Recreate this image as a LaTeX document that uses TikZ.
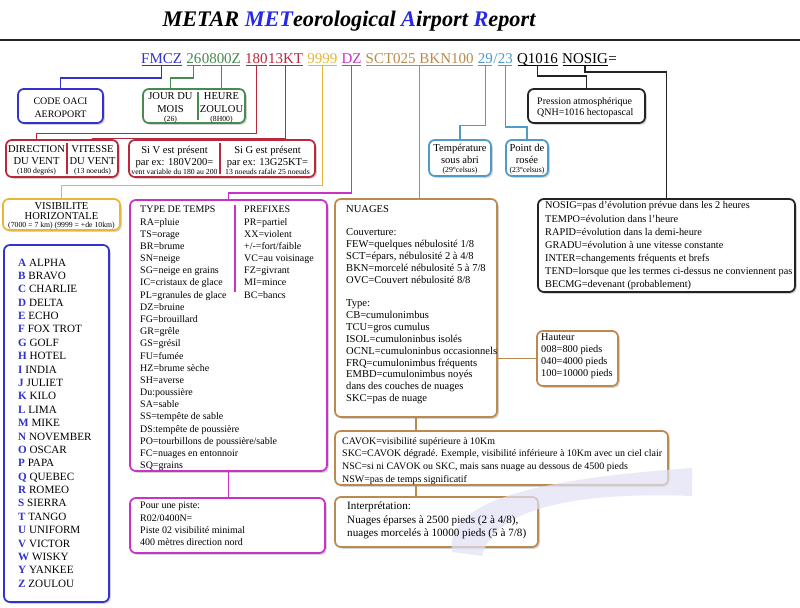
\documentclass[tikz,border=0pt]{standalone}
\usepackage{fontspec}
\setmainfont{Liberation Serif}
\usepackage{tikz}
\usetikzlibrary{positioning,fit,shadows}

\definecolor{oaciblue}{RGB}{50,50,205}
\definecolor{titleblue}{RGB}{40,40,235}
\definecolor{dategreen}{RGB}{72,138,82}
\definecolor{windred}{RGB}{185,40,60}
\definecolor{visyellow}{RGB}{232,182,60}
\definecolor{wxmagenta}{RGB}{200,50,200}
\definecolor{cloudtan}{RGB}{188,138,78}
\definecolor{tempblue}{RGB}{78,155,195}
\definecolor{inkgray}{RGB}{35,35,35}
\definecolor{lavender}{RGB}{225,225,246}

\newcommand{\petit}{\fontsize{6.6}{7}\selectfont}
\newcommand{\phon}[2]{\textbf{\textcolor{oaciblue}{#1}} #2}

\begin{document}
\begin{tikzpicture}[x=0.03cm, y=-0.03cm,
	box/.style={draw=#1, line width=1.5pt, rounded corners=5pt, fill=white, inner sep=0pt,
		drop shadow={shadow xshift=1.5pt, shadow yshift=-1.5pt, opacity=0.35}},
	code/.style={text=#1, inner sep=0pt, text height=9pt, text depth=2.2pt, font=\fontsize{12.8}{14}\selectfont},
	uline/.style={draw=#1, line width=0.8pt, shorten >=0.6pt, shorten <=0.6pt},
	paths/.style={draw=#1, line width=1.2pt},
	divider/.style={draw=#1, line width=1pt},
	boxtext/.style={inner sep=0pt, align=left, anchor=north west, font=\fontsize{8.5}{10.4}\selectfont},
	midtext/.style={inner sep=0pt, align=center, font=\fontsize{9}{10.2}\selectfont},
	swoosh/.style={fill=lavender, fill opacity=0.7}
	]
\useasboundingbox (0,0) rectangle (800,608);
\fill [white] (0,0) rectangle (800,608);

% title
\node [font=\fontsize{19}{22}\selectfont\bfseries\itshape] (title) at (349,21)
	{METAR \textcolor{titleblue}{MET}eorological \textcolor{titleblue}{A}irport \textcolor{titleblue}{R}eport};
\draw [line width=1.8pt, inkgray] (0,40) -- (800,40);

% the message
\node [code=oaciblue, anchor=base west] (fmcz) at (141,63) {FMCZ};
\node [code=dategreen, right=3.2pt of fmcz] (jour) {26};
\node [code=dategreen, right=0pt of jour] (heure) {0800Z};
\node [code=windred, right=3.2pt of heure] (dirv) {180};
\node [code=windred, right=0pt of dirv] (vitv) {13KT};
\node [code=visyellow, right=3.2pt of vitv] (visi) {9999};
\node [code=wxmagenta, right=3.2pt of visi] (meteo) {DZ};
\node [code=cloudtan, right=3.2pt of meteo] (nuage) {SCT025 BKN100};
\node [code=tempblue, right=3.2pt of nuage] (temp) {29};
\node [code=tempblue, right=0pt of temp] (slash) {/};
\node [code=tempblue, right=0pt of slash] (rosee) {23};
\node [code=black, right=3.2pt of rosee] (qnh) {Q1016};
\node [code=black, right=3.2pt of qnh] (nosig) {NOSIG};
\node [code=black, right=0pt of nosig] (egal) {=};

\draw [uline=oaciblue] (fmcz.south west) -- (fmcz.south east);
\draw [uline=dategreen] (jour.south west) -- (jour.south east);
\draw [uline=dategreen] (heure.south west) -- (heure.south east);
\draw [uline=windred] (dirv.south west) -- (dirv.south east);
\draw [uline=windred] (vitv.south west) -- (vitv.south east);
\draw [uline=visyellow] (visi.south west) -- (visi.south east);
\draw [uline=wxmagenta] (meteo.south west) -- (meteo.south east);
\draw [uline=cloudtan] (nuage.south west) -- (nuage.south east);
\draw [uline=tempblue] (temp.south west) -- (temp.south east);
\draw [uline=tempblue] (rosee.south west) -- (rosee.south east);
\draw [uline=black] (qnh.south west) -- (qnh.south east);
\draw [uline=black] (nosig.south west) -- (nosig.south east);

% boxes
\node [box=oaciblue, fit={(18,89) (103,123)}] (oacibox) {};
\node [box=dategreen, fit={(143,89) (245,123)}] (jourbox) {};
\node [box=windred, fit={(6,140) (118,177)}] (ventbox) {};
\node [box=windred, fit={(129,140) (315,177)}] (rafbox) {};
\node [box=visyellow, fit={(3,199) (120,230)}] (visbox) {};
\node [box=oaciblue, fit={(4,245) (109,602)}] (alphabox) {};
\node [box=wxmagenta, fit={(130,200) (327,471)}] (tempsbox) {};
\node [box=wxmagenta, fit={(130,498) (325,553)}] (pistebox) {};
\node [box=tempblue, fit={(429,140) (491,176)}] (tempbox) {};
\node [box=tempblue, fit={(506,140) (548,176)}] (roseebox) {};
\node [box=inkgray, fit={(528,89) (645,123)}] (qnhbox) {};
\node [box=inkgray, fit={(538,199) (795,292)}] (evolbox) {};
\node [box=cloudtan, fit={(335,199) (497,417)}] (nuagebox) {};
\node [box=cloudtan, fit={(537,331) (618,386)}] (hautbox) {};
\node [box=cloudtan, fit={(335,431) (668,485)}] (cavokbox) {};
\node [box=cloudtan, fit={(335,497) (538,547)}] (interbox) {};

\draw [divider=dategreen] (198,92) -- (198,120);
\draw [divider=windred] (67,143) -- (67,174);
\draw [divider=windred] (220,143) -- (220,174);
\draw [divider=wxmagenta] (235,205) -- (235,292);

% background swoosh
\fill [swoosh] (452,552) .. controls (445,505) and (520,480) .. (692,468) -- (692,496) .. controls (585,492) and (495,505) .. (482,556) -- cycle;

% texts
\node [midtext, font=\fontsize{8.5}{11}\selectfont] (oacitxt) at (60.5,107.5) {CODE OACI\\AEROPORT};
\node [midtext, font=\fontsize{9}{11}\selectfont] (jourtxt) at (170.5,107.5) {JOUR DU\\MOIS\\[-3.3pt]{\petit (26)}};
\node [midtext, font=\fontsize{9}{11}\selectfont] (heuretxt) at (221.5,107.5) {HEURE\\ZOULOU\\[-3.3pt]{\petit (8H00)}};
\node [midtext] (dirtxt) at (36.5,160.5) {DIRECTION\\DU VENT\\[-2.5pt]{\petit (180 degrés)}};
\node [midtext] (vittxt) at (92.5,160.5) {VITESSE\\DU VENT\\[-2.5pt]{\petit (13 noeuds)}};
\node [midtext] (sivtxt) at (174.5,160.5) {Si V est présent\\par ex: 180V200=\\[-2.5pt]{\petit vent variable du 180 au 200}};
\node [midtext] (sigtxt) at (267.5,160.5) {Si G est présent\\par ex: 13G25KT=\\[-2.5pt]{\petit 13 noeuds rafale 25 noeuds}};
\node [midtext, font=\fontsize{9}{11}\selectfont] (vistxt) at (61.5,216)
	{VISIBILITE\\[-2.5pt]HORIZONTALE\\[-4pt]{\petit (7000 = 7 km) (9999 = +de 10km)}};

\node [boxtext, font=\fontsize{9.5}{11.42}\selectfont] (alphatxt) at (18,258.5)
	{\phon{A}{ALPHA}\\\phon{B}{BRAVO}\\\phon{C}{CHARLIE}\\\phon{D}{DELTA}\\\phon{E}{ECHO}\\
	\phon{F}{FOX TROT}\\\phon{G}{GOLF}\\\phon{H}{HOTEL}\\\phon{I}{INDIA}\\\phon{J}{JULIET}\\
	\phon{K}{KILO}\\\phon{L}{LIMA}\\\phon{M}{MIKE}\\\phon{N}{NOVEMBER}\\\phon{O}{OSCAR}\\
	\phon{P}{PAPA}\\\phon{Q}{QUEBEC}\\\phon{R}{ROMEO}\\\phon{S}{SIERRA}\\\phon{T}{TANGO}\\
	\phon{U}{UNIFORM}\\\phon{V}{VICTOR}\\\phon{W}{WISKY}\\\phon{Y}{YANKEE}\\\phon{Z}{ZOULOU}};

\node [boxtext] (typetxt) at (140,206)
	{TYPE DE TEMPS\\RA=pluie\\TS=orage\\BR=brume\\SN=neige\\SG=neige en grains\\
	IC=cristaux de glace\\PL=granules de glace\\DZ=bruine\\FG=brouillard\\GR=grêle\\
	GS=grésil\\FU=fumée\\HZ=brume sèche\\SH=averse\\Du:poussière\\SA=sable\\
	SS=tempête de sable\\DS:tempête de poussière\\PO=tourbillons de poussière/sable\\
	FC=nuages en entonnoir\\SQ=grains};
\node [boxtext] (prefixtxt) at (244,206)
	{PREFIXES\\PR=partiel\\XX=violent\\+/-=fort/faible\\VC=au voisinage\\FZ=givrant\\MI=mince\\BC=bancs};

\node [boxtext, font=\fontsize{8.5}{10.5}\selectfont] (pistetxt) at (140,502)
	{Pour une piste:\\R02/0400N=\\Piste 02 visibilité minimal\\400 mètres direction nord};

\node [midtext] (temptxt) at (460,159.5) {Température\\sous abri\\[-2.5pt]{\petit (29°celsus)}};
\node [midtext] (roseetxt) at (527,159.5) {Point de\\rosée\\[-2.5pt]{\petit (23°celsus)}};

\node [boxtext, font=\fontsize{8.5}{9.6}\selectfont] (qnhtxt) at (537,97)
	{Pression atmosphérique\\QNH=1016 hectopascal};

\node [boxtext, font=\fontsize{8.8}{11.2}\selectfont] (evoltxt) at (545,201.5)
	{NOSIG=pas d'évolution prévue dans les 2 heures\\TEMPO=évolution dans l'heure\\
	RAPID=évolution dans la demi-heure\\GRADU=évolution à une vitesse constante\\
	INTER=changements fréquents et brefs\\TEND=lorsque que les termes ci-dessus ne conviennent pas\\
	BECMG=devenant (probablement)};

\node [boxtext, font=\fontsize{9}{10.1}\selectfont] (nuagetxt) at (346,205)
	{NUAGES\\[10.1pt]Couverture:\\FEW=quelques nébulosité 1/8\\SCT=épars, nébulosité 2 à 4/8\\
	BKN=morcelé nébulosité 5 à 7/8\\OVC=Couvert nébulosité 8/8\\[10.1pt]Type:\\CB=cumulonimbus\\
	TCU=gros cumulus\\ISOL=cumuloninbus isolés\\OCNL=cumuloninbus occasionnels\\
	FRQ=cumulonimbus fréquents\\EMBD=cumulonimbus noyés\\dans des couches de nuages\\SKC=pas de nuage};

\node [boxtext, font=\fontsize{8.8}{10.2}\selectfont] (hauttxt) at (541,334)
	{Hauteur\\008=800 pieds\\040=4000 pieds\\100=10000 pieds};

\node [boxtext, font=\fontsize{8.5}{10.8}\selectfont] (cavoktxt) at (342,437)
	{CAVOK=visibilité supérieure à 10Km\\SKC=CAVOK dégradé. Exemple, visibilité inférieure à 10Km avec un ciel clair\\
	NSC=si ni CAVOK ou SKC, mais sans nuage au dessous de 4500 pieds\\NSW=pas de temps significatif};

\node [boxtext, font=\fontsize{9.5}{11.5}\selectfont] (intertxt) at (347,502)
	{Interprétation:\\Nuages éparses à 2500 pieds (2 à 4/8),\\nuages morcelés à 10000 pieds (5 à 7/8)};

% connectors
\draw [paths=oaciblue] (fmcz.south) -- ++(0,12) -| (oacibox.north);
\draw [paths=dategreen] (jour.south) -- ++(0,12) -| (jourtxt |- jourbox.north);
\draw [paths=dategreen] (heure.south) -- (heure.south |- jourbox.north);
\draw [paths=windred] (dirv.south) -- ++(0,67.5) -| (dirtxt |- ventbox.north);
\draw [paths=windred] (vitv.south) -- ++(0,72.5) coordinate (rafale) -| (vittxt |- ventbox.north);
\draw [paths=windred] (rafale) -| (rafbox.north);
\draw [paths=visyellow] (visi.south) -- ++(0,119.5) -| (visbox.north);
\draw [paths=wxmagenta] (meteo.south) -- ++(0,127) -| (tempsbox.north);
\draw [paths=wxmagenta] (tempsbox.south) -- (tempsbox.south |- pistebox.north);
\draw [paths=cloudtan] (nuage.south) -- (nuage.south |- nuagebox.north);
\draw [paths=cloudtan] (nuagebox.south) -- (nuagebox.south |- cavokbox.north);
\draw [paths=cloudtan] (nuagebox.south |- cavokbox.south) -- (nuagebox.south |- interbox.north);
\draw [paths=cloudtan] (nuagebox.east |- hautbox.west) -- (hautbox.west);
\draw [paths=tempblue] (temp.south) -- ++(0,59.5) -| (tempbox.north);
\draw [paths=tempblue] (rosee.south) -- ++(0,61) -| (roseebox.north);
\draw [paths=inkgray] (qnh.south) -- ++(0,10) -| (qnhbox.north);
\draw [paths=inkgray] (nosig.south) -- ++(0,6) -| (evolbox.north);
\end{tikzpicture}
\end{document}
